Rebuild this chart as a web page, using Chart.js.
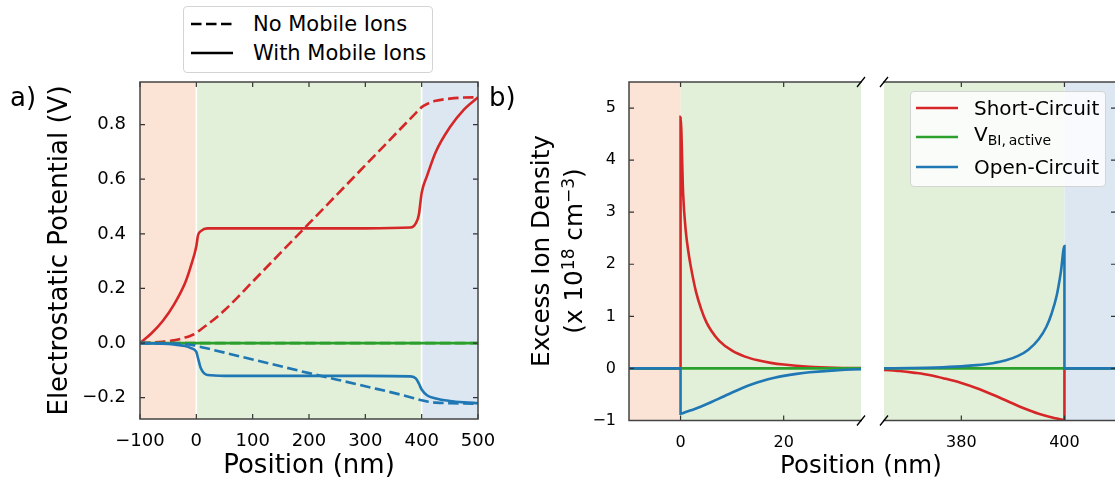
<!DOCTYPE html>
<html>
<head>
<meta charset="utf-8">
<script src="https://cdn.jsdelivr.net/npm/chart.js@4.4.1/dist/chart.umd.min.js"></script>
<style>
  html, body { margin: 0; padding: 0; overflow: hidden; background: #fff; }
  body { position: relative; width: 1115px; height: 487px; font-family: 'DejaVu Sans', sans-serif; color: #000; }
  canvas { position: absolute; top: 0; }
  .txt { position: absolute; white-space: nowrap; }
  .legend { position: absolute; box-sizing: border-box; border: 1px solid #d4d4d4; border-radius: 4px; }
  .legend .row { position: absolute; left: 0; display: flex; align-items: center; white-space: nowrap; }
  sup { font-size: 17px; line-height: 0; vertical-align: 0.45em; }
  sub { font-size: 14px; line-height: 0; vertical-align: -0.3em; }
</style>
</head>
<body>
<canvas id="potChart" width="520" height="487" style="left:0"></canvas>
<canvas id="ionLeft" width="401" height="487" style="left:480px"></canvas>
<canvas id="ionRight" width="260" height="487" style="left:870px"></canvas>

<div class="txt" style="left:10px;top:84px;font-size:26px;line-height:26px">a)</div>
<div class="txt" style="left:489px;top:84px;font-size:26px;line-height:26px">b)</div>
<div class="legend" id="legendA" style="left:183px;top:6px;width:250px;height:67px;background:#fff"></div>
<div class="legend" id="legendB" style="left:910px;top:91px;width:196px;height:96px;background:rgba(255,255,255,0.8)"></div>
<div class="txt" style="left:387px;top:218px;width:340px;height:66px;text-align:center;font-size:24.7px;line-height:33px;transform:rotate(-90deg)">
  Excess Ion Density<br>(x 10<sup>18</sup> cm<sup>&minus;3</sup>)
</div>
<div class="txt" style="left:780px;top:453px;font-size:24.5px;line-height:24.5px">Position (nm)</div>

<script>
// ---- panel a: electrostatic potential (V) against position (nm)
const potPos = [-100, -80, -60, -40, -20, -10, 0, 3, 8, 20, 50, 100, 200, 300, 380, 390, 395, 400, 410, 425, 450, 475, 500];
const potShortIons = [0, 0.035, 0.08, 0.14, 0.22, 0.28, 0.355, 0.395, 0.41, 0.42, 0.42, 0.42, 0.42, 0.42, 0.423, 0.44, 0.47, 0.55, 0.615, 0.70, 0.79, 0.855, 0.90];
const potShortNoIons = [0, 0.002, 0.005, 0.01, 0.02, 0.027, 0.037, 0.042, 0.05, 0.068, 0.12, 0.225, 0.438, 0.651, 0.822, 0.843, 0.853, 0.864, 0.876, 0.887, 0.895, 0.899, 0.90];
const potVbiIons = [0, 0, 0, 0, 0, 0, 0, 0, 0, 0, 0, 0, 0, 0, 0, 0, 0, 0, 0, 0, 0, 0, 0];
const potVbiNoIons = [0, 0, 0, 0, 0, 0, 0, 0, 0, 0, 0, 0, 0, 0, 0, 0, 0, 0, 0, 0, 0, 0, 0];
const potOpenIons = [0, -0.001, -0.002, -0.005, -0.011, -0.018, -0.032, -0.055, -0.092, -0.117, -0.12, -0.12, -0.12, -0.12, -0.122, -0.13, -0.148, -0.17, -0.192, -0.203, -0.212, -0.217, -0.22];
const potOpenNoIons = [0, -0.0005, -0.001, -0.002, -0.004, -0.006, -0.01, -0.012, -0.014, -0.02, -0.035, -0.06, -0.11, -0.158, -0.198, -0.204, -0.207, -0.209, -0.214, -0.218, -0.22, -0.221, -0.222];
const potTicksX = [-100, 0, 100, 200, 300, 400, 500];
const potTicksY = [-0.2, 0, 0.2, 0.4, 0.6, 0.8];

// ---- panel b: excess ion density (x 1e18 cm^-3), broken position axis
const ionPosShort = [-10, 0, 0, 0.5, 1, 1.5, 2, 3, 4, 5, 6, 7.5, 10, 12.5, 15, 17.5, 20, 25, 30, 35,
  365, 368, 371, 374, 377, 380, 383, 386, 389, 392, 395, 398, 400, 400, 410];
const ionShort = [0, 0, 4.83, 3.35, 2.65, 2.25, 1.95, 1.47, 1.14, 0.89, 0.72, 0.53, 0.34, 0.227, 0.156, 0.107, 0.074, 0.033, 0.014, 0.006,
  -0.03, -0.05, -0.085, -0.13, -0.2, -0.28, -0.38, -0.5, -0.63, -0.76, -0.87, -0.95, -0.99, 0, 0];
const ionPosVbi = [-10, 0, 35, 365, 400, 410];
const ionVbi = [0, 0, 0, 0, 0, 0];
const ionPosOpen = [-10, 0, 0, 1, 2, 3, 4, 5, 6, 7, 8, 10, 12, 14, 16, 18, 20, 22.5, 25, 30, 35,
  365, 370, 375, 380, 383, 386, 388.5, 391, 393, 395, 396.5, 397.5, 398.5, 399.3, 400, 400, 410];
const ionOpen = [0, 0, -0.87, -0.838, -0.805, -0.77, -0.73, -0.688, -0.644, -0.599, -0.554, -0.462, -0.376, -0.3, -0.236, -0.184, -0.143, -0.104, -0.075, -0.038, -0.017,
  0.003, 0.008, 0.018, 0.04, 0.063, 0.1, 0.15, 0.24, 0.36, 0.56, 0.8, 1.05, 1.4, 1.85, 2.35, 0, 0];
const ionTicksLeft = [0, 20];
const ionTicksRight = [380, 400];
const ionTicksY = [-1, 0, 1, 2, 3, 4, 5];

// device layers (nm): transport layer / perovskite / transport layer
const layerEdges = [-100, 0, 400, 500];
const layerColors = ['rgb(251,227,214)', 'rgb(226,239,217)', 'rgb(221,231,242)'];

const ionNames = ['Short-Circuit', 'V<sub>BI,&thinsp;active</sub>', 'Open-Circuit'];
const styleNames = ['No Mobile Ions', 'With Mobile Ions'];

const RED = '#d62728', GREEN = '#2ca02c', BLUE = '#1f77b4';
const DASH = [10.5, 4.5];
const LW = 2.6;

Chart.defaults.font.family = "'DejaVu Sans', sans-serif";
Chart.defaults.color = '#000';

const minus = v => String(v).replace('-', '\u2212');
const series = (xs, ys) => xs.map((v, i) => ({x: v, y: ys[i]}));

// shaded layer bands behind the curves
const layersPlugin = {
  id: 'layers',
  beforeDatasetsDraw(chart, args, opts) {
    const {ctx, chartArea: a} = chart;
    const x = chart.scales.x;
    ctx.save();
    ctx.beginPath();
    ctx.rect(a.left, a.top, a.width, a.height);
    ctx.clip();
    for (let i = 0; i < layerColors.length; i++) {
      const x0 = x.getPixelForValue(layerEdges[i]);
      const x1 = x.getPixelForValue(layerEdges[i + 1]);
      ctx.fillStyle = layerColors[i];
      ctx.fillRect(x0, a.top, x1 - x0, a.height);
    }
    if (opts.separators) {
      ctx.strokeStyle = '#fff';
      ctx.lineWidth = 1.6;
      ctx.beginPath();
      layerEdges.slice(1, -1).forEach(v => {
        const px = x.getPixelForValue(v);
        ctx.moveTo(px, a.top);
        ctx.lineTo(px, a.bottom);
      });
      ctx.stroke();
    }
    ctx.restore();
  }
};

// matplotlib-like frame: spines, inward ticks, axis-break marks
const framePlugin = {
  id: 'frame',
  afterDatasetsDraw(chart, args, o) {
    const {ctx, chartArea: a} = chart;
    const x = chart.scales.x, y = chart.scales.y;
    const len = 5;
    ctx.save();
    ctx.strokeStyle = '#333';
    ctx.lineWidth = 1.2;
    ctx.beginPath();
    x.ticks.forEach(t => {
      const px = x.getPixelForValue(t.value);
      if (o.xTicks.includes('bottom')) { ctx.moveTo(px, a.bottom); ctx.lineTo(px, a.bottom - len); }
      if (o.xTicks.includes('top')) { ctx.moveTo(px, a.top); ctx.lineTo(px, a.top + len); }
    });
    y.ticks.forEach(t => {
      const py = y.getPixelForValue(t.value);
      if (o.yTicks.includes('left')) { ctx.moveTo(a.left, py); ctx.lineTo(a.left + len, py); }
      if (o.yTicks.includes('right')) { ctx.moveTo(a.right, py); ctx.lineTo(a.right - len, py); }
    });
    ctx.stroke();

    ctx.strokeStyle = '#444';
    ctx.lineWidth = 1.5;
    ctx.lineCap = 'square';
    ctx.beginPath();
    if (o.spines.includes('left')) { ctx.moveTo(a.left, a.top); ctx.lineTo(a.left, a.bottom); }
    if (o.spines.includes('right')) { ctx.moveTo(a.right, a.top); ctx.lineTo(a.right, a.bottom); }
    if (o.spines.includes('top')) { ctx.moveTo(a.left, a.top); ctx.lineTo(a.right, a.top); }
    if (o.spines.includes('bottom')) { ctx.moveTo(a.left, a.bottom); ctx.lineTo(a.right, a.bottom); }
    ctx.stroke();

    if (o.breakAt) {
      const bx = o.breakAt === 'right' ? a.right : a.left;
      ctx.strokeStyle = '#000';
      ctx.lineWidth = 1.3;
      ctx.lineCap = 'butt';
      ctx.beginPath();
      [a.top, a.bottom].forEach(by => {
        ctx.moveTo(bx - 4, by + 5);
        ctx.lineTo(bx + 4, by - 5);
      });
      ctx.stroke();
    }
    ctx.restore();
  }
};

const lineStyle = {borderWidth: LW, pointRadius: 0, fill: false, cubicInterpolationMode: 'monotone'};

// ---------------- panel a ----------------
const potSets = [
  {label: 'Open-Circuit (with ions)', data: series(potPos, potOpenIons), borderColor: BLUE, order: 0},
  {label: 'Open-Circuit (no ions)', data: series(potPos, potOpenNoIons), borderColor: BLUE, borderDash: DASH, order: 1},
  {label: 'V_BI (with ions)', data: series(potPos, potVbiIons), borderColor: GREEN, order: 2},
  {label: 'V_BI (no ions)', data: series(potPos, potVbiNoIons), borderColor: GREEN, borderDash: DASH, order: 3},
  {label: 'Short-Circuit (with ions)', data: series(potPos, potShortIons), borderColor: RED, order: 4},
  {label: 'Short-Circuit (no ions)', data: series(potPos, potShortNoIons), borderColor: RED, borderDash: DASH, order: 5}
].map(d => Object.assign({}, lineStyle, d));

new Chart(document.getElementById('potChart'), {
  type: 'line',
  data: {datasets: potSets},
  options: {
    responsive: false,
    animation: false,
    devicePixelRatio: 1,
    events: [],
    layout: {padding: {left: 0, top: 82, right: 42, bottom: 0}},
    plugins: {
      legend: {display: false},
      tooltip: {enabled: false},
      layers: {separators: true},
      frame: {spines: ['left', 'right', 'top', 'bottom'], xTicks: ['top', 'bottom'], yTicks: ['left', 'right']}
    },
    scales: {
      x: {
        type: 'linear',
        min: -100,
        max: 500,
        afterBuildTicks: s => { s.ticks = potTicksX.map(v => ({value: v})); },
        afterFit: s => { s.height = 68; },
        grid: {display: false, drawTicks: false},
        border: {display: false},
        ticks: {padding: 11.3, font: {size: 18}, maxRotation: 0, autoSkip: false, callback: v => minus(v)},
        title: {display: true, text: 'Position (nm)', font: {size: 26}, padding: {top: 0, bottom: 5.1}}
      },
      y: {
        type: 'linear',
        min: -0.278,
        max: 0.956,
        afterBuildTicks: s => { s.ticks = potTicksY.map(v => ({value: v})); },
        afterFit: s => { s.width = 140; },
        grid: {display: false, drawTicks: false},
        border: {display: false},
        ticks: {padding: 14, font: {size: 18}, autoSkip: false, callback: v => minus(v.toFixed(1))},
        title: {display: true, text: 'Electrostatic Potential (V)', font: {size: 26}, padding: {top: 44.3, bottom: 0}}
      }
    }
  },
  plugins: [layersPlugin, framePlugin]
});

// ---------------- panel b (two halves of a broken x axis) ----------------
function ionSets() {
  return [
    {label: 'Open-Circuit', data: series(ionPosOpen, ionOpen), borderColor: BLUE, order: 0},
    {label: 'V_BI,active', data: series(ionPosVbi, ionVbi), borderColor: GREEN, order: 1},
    {label: 'Short-Circuit', data: series(ionPosShort, ionShort), borderColor: RED, order: 2}
  ].map(d => Object.assign({}, lineStyle, {clip: 0}, d));
}

function ionOptions(side) {
  const left = side === 'left';
  const yAxis = {
    type: 'linear',
    display: left,
    min: -1,
    max: 5.5,
    afterBuildTicks: s => { s.ticks = ionTicksY.map(v => ({value: v})); },
    grid: {display: false, drawTicks: false},
    border: {display: false},
    ticks: {padding: 13, font: {size: 16}, autoSkip: false, callback: v => minus(v)}
  };
  if (left) yAxis.afterFit = s => { s.width = 149; };
  return {
    responsive: false,
    animation: false,
    devicePixelRatio: 1,
    events: [],
    layout: {padding: left ? {left: 0, top: 82, right: 20, bottom: 0} : {left: 14, top: 82, right: 14, bottom: 0}},
    plugins: {
      legend: {display: false},
      tooltip: {enabled: false},
      layers: {separators: false},
      frame: left
        ? {spines: ['left', 'top', 'bottom'], xTicks: ['top', 'bottom'], yTicks: ['left'], breakAt: 'right'}
        : {spines: ['right', 'top', 'bottom'], xTicks: ['top', 'bottom'], yTicks: ['right'], breakAt: 'left'}
    },
    scales: {
      x: {
        type: 'linear',
        min: left ? -10 : 365,
        max: left ? 35 : 410,
        afterBuildTicks: s => { s.ticks = (left ? ionTicksLeft : ionTicksRight).map(v => ({value: v})); },
        afterFit: s => { s.height = 66.5; },
        grid: {display: false, drawTicks: false},
        border: {display: false},
        ticks: {padding: 12.8, font: {size: 16}, maxRotation: 0, autoSkip: false, callback: v => minus(v)}
      },
      y: yAxis
    }
  };
}

new Chart(document.getElementById('ionLeft'), {
  type: 'line', data: {datasets: ionSets()}, options: ionOptions('left'), plugins: [layersPlugin, framePlugin]
});
new Chart(document.getElementById('ionRight'), {
  type: 'line', data: {datasets: ionSets()}, options: ionOptions('right'), plugins: [layersPlugin, framePlugin]
});

// ---------------- legends ----------------
function sample(color, dash) {
  const d = dash ? ` stroke-dasharray="${dash.join(' ')}"` : '';
  return `<svg width="42" height="8" style="flex:none"><line x1="0" y1="4" x2="42" y2="4" stroke="${color}" stroke-width="${LW}"${d}/></svg>`;
}

const legA = document.getElementById('legendA');
[[DASH, 17], [null, 46]].forEach(([dash, cy], i) => {
  const row = document.createElement('div');
  row.className = 'row';
  row.style.cssText = `top:${cy - 14}px;height:28px;left:7px;font-size:21px;line-height:28px`;
  row.innerHTML = sample('#000', dash) + `<span style="margin-left:20px">${styleNames[i]}</span>`;
  legA.appendChild(row);
});

const legB = document.getElementById('legendB');
[[RED, 16], [GREEN, 45], [BLUE, 75]].forEach(([color, cy], i) => {
  const row = document.createElement('div');
  row.className = 'row';
  row.style.cssText = `top:${cy - 12}px;height:24px;left:5px;font-size:20px;line-height:24px`;
  const lift = i === 1 ? 'position:relative;top:-3px;' : '';
  row.innerHTML = sample(color, null) + `<span style="margin-left:16px;${lift}">${ionNames[i]}</span>`;
  legB.appendChild(row);
});
</script>
</body>
</html>
